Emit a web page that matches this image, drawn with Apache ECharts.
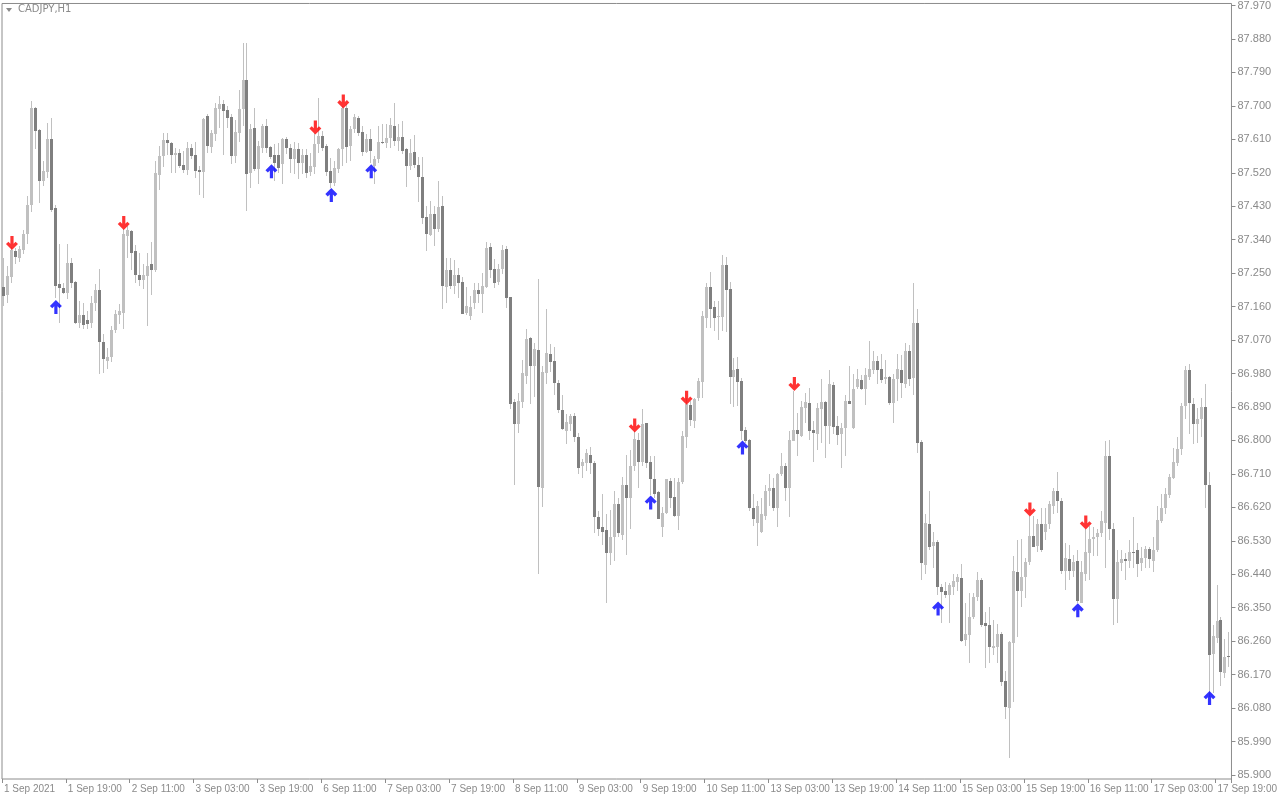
<!DOCTYPE html>
<html>
<head>
<meta charset="utf-8">
<script src="https://cdn.jsdelivr.net/npm/echarts@6/dist/echarts.min.js"></script>
<style>
html,body{margin:0;padding:0;background:#fff;}
#chart{width:1280px;height:800px;}
</style>
</head>
<body>
<div id="chart"></div>
<script>
// ---- DATA ----
const symbolTitle = 'CADJPY,H1';
const xTickLabels = ['1 Sep 2021','1 Sep 19:00','2 Sep 11:00','3 Sep 03:00','3 Sep 19:00','6 Sep 11:00','7 Sep 03:00','7 Sep 19:00','8 Sep 11:00','9 Sep 03:00','9 Sep 19:00','10 Sep 11:00','13 Sep 03:00','13 Sep 19:00','14 Sep 11:00','15 Sep 03:00','15 Sep 19:00','16 Sep 11:00','17 Sep 03:00','17 Sep 19:00'];
const yTickLabels = [87.970,87.880,87.790,87.700,87.610,87.520,87.430,87.340,87.250,87.160,87.070,86.980,86.890,86.800,86.710,86.620,86.530,86.440,86.350,86.260,86.170,86.080,85.990,85.900];

// OHLC rows: [open, close, low, high]
const bars = [
[87.213,87.189,87.162,87.291],[87.191,87.242,87.170,87.269],[87.240,87.312,87.224,87.320],[87.310,87.293,87.275,87.318],
[87.291,87.315,87.280,87.323],[87.312,87.355,87.301,87.366],[87.355,87.433,87.328,87.457],[87.433,87.693,87.414,87.712],
[87.693,87.632,87.583,87.696],[87.634,87.497,87.438,87.637],[87.497,87.524,87.484,87.551],[87.522,87.610,87.506,87.653],
[87.610,87.420,87.414,87.667],[87.425,87.216,87.183,87.433],[87.221,87.210,87.116,87.328],[87.210,87.197,87.194,87.224],
[87.197,87.277,87.181,87.328],[87.277,87.224,87.210,87.291],[87.226,87.116,87.114,87.229],[87.116,87.138,87.103,87.175],
[87.138,87.111,87.100,87.170],[87.124,87.114,87.100,87.148],[87.116,87.170,87.103,87.189],[87.170,87.205,87.148,87.221],
[87.205,87.065,86.979,87.261],[87.065,87.020,86.982,87.087],[87.014,87.025,86.993,87.049],[87.025,87.097,87.012,87.108],
[87.097,87.140,87.089,87.151],[87.138,87.148,87.114,87.167],[87.143,87.355,87.100,87.369],[87.350,87.366,87.291,87.377],
[87.363,87.304,87.259,87.366],[87.310,87.245,87.224,87.326],[87.245,87.232,87.216,87.304],[87.232,87.245,87.208,87.275],
[87.242,87.269,87.108,87.304],[87.275,87.259,87.191,87.334],[87.259,87.519,87.253,87.551],[87.514,87.565,87.473,87.591],
[87.565,87.608,87.535,87.626],[87.608,87.599,87.567,87.626],[87.599,87.567,87.519,87.602],[87.567,87.573,87.519,87.586],
[87.573,87.538,87.532,87.583],[87.540,87.527,87.519,87.578],[87.527,87.586,87.514,87.602],[87.586,87.565,87.557,87.597],
[87.567,87.524,87.506,87.602],[87.527,87.522,87.460,87.538],[87.522,87.664,87.452,87.667],[87.672,87.591,87.573,87.678],
[87.589,87.626,87.573,87.634],[87.624,87.693,87.605,87.707],[87.691,87.704,87.640,87.726],[87.704,87.685,87.567,87.715],
[87.688,87.667,87.640,87.699],[87.669,87.565,87.543,87.678],[87.565,87.629,87.546,87.661],[87.626,87.691,87.602,87.744],
[87.691,87.769,87.645,87.868],[87.769,87.516,87.417,87.868],[87.519,87.637,87.479,87.650],[87.640,87.530,87.524,87.693],
[87.530,87.591,87.489,87.605],[87.586,87.645,87.573,87.650],[87.645,87.586,87.573,87.664],[87.589,87.562,87.557,87.591],
[87.567,87.546,87.497,87.597],[87.567,87.532,87.519,87.599],[87.543,87.610,87.489,87.613],[87.610,87.586,87.570,87.616],
[87.586,87.557,87.519,87.597],[87.557,87.583,87.516,87.602],[87.583,87.546,87.503,87.599],[87.546,87.567,87.516,87.583],
[87.567,87.519,87.506,87.583],[87.522,87.538,87.511,87.573],[87.535,87.597,87.516,87.626],[87.597,87.618,87.573,87.720],
[87.618,87.586,87.578,87.632],[87.591,87.522,87.511,87.597],[87.524,87.492,87.479,87.559],[87.492,87.532,87.484,87.551],
[87.530,87.583,87.519,87.586],[87.583,87.693,87.538,87.699],[87.693,87.589,87.546,87.704],[87.591,87.637,87.551,87.645],
[87.637,87.669,87.626,87.678],[87.667,87.626,87.618,87.672],[87.629,87.575,87.565,87.645],[87.575,87.610,87.573,87.624],
[87.610,87.578,87.546,87.637],[87.538,87.557,87.489,87.565],[87.557,87.602,87.546,87.645],[87.602,87.599,87.597,87.650],
[87.599,87.613,87.586,87.650],[87.613,87.648,87.586,87.667],[87.645,87.605,87.591,87.707],[87.605,87.616,87.578,87.650],
[87.616,87.578,87.570,87.659],[87.583,87.538,87.481,87.586],[87.538,87.573,87.527,87.610],[87.575,87.540,87.532,87.621],
[87.540,87.508,87.441,87.562],[87.508,87.398,87.382,87.562],[87.401,87.355,87.310,87.430],[87.353,87.409,87.350,87.444],
[87.409,87.369,87.323,87.430],[87.369,87.428,87.361,87.497],[87.430,87.216,87.154,87.457],[87.213,87.259,87.170,87.291],
[87.259,87.216,87.208,87.291],[87.216,87.245,87.194,87.286],[87.245,87.224,87.183,87.264],[87.226,87.140,87.140,87.240],
[87.143,87.162,87.138,87.213],[87.135,87.159,87.124,87.189],[87.170,87.205,87.154,87.224],[87.205,87.194,87.170,87.224],
[87.194,87.216,87.143,87.250],[87.213,87.318,87.210,87.334],[87.320,87.259,87.237,87.331],[87.261,87.224,87.210,87.288],
[87.226,87.261,87.218,87.275],[87.261,87.312,87.248,87.326],[87.315,87.183,87.156,87.323],[87.186,86.899,86.885,87.186],
[86.904,86.845,86.679,86.912],[86.845,86.907,86.821,86.928],[86.904,86.982,86.888,87.017],[86.974,87.073,86.952,87.100],
[87.076,87.001,86.899,87.079],[87.001,87.046,86.918,87.063],[87.044,86.676,86.442,87.234],[86.673,86.985,86.622,87.001],
[86.982,87.036,86.952,87.154],[87.033,87.012,86.985,87.060],[87.014,86.955,86.921,87.052],[86.955,86.883,86.875,86.963],
[86.883,86.832,86.829,86.921],[86.826,86.850,86.791,86.870],[86.845,86.867,86.826,86.872],[86.867,86.808,86.797,86.875],
[86.810,86.727,86.711,86.821],[86.730,86.743,86.700,86.751],[86.738,86.765,86.719,86.778],[86.762,86.738,86.711,86.783],
[86.738,86.593,86.550,86.746],[86.593,86.563,86.544,86.609],[86.566,86.553,86.518,86.655],[86.558,86.496,86.362,86.603],
[86.496,86.539,86.464,86.614],[86.539,86.630,86.477,86.663],[86.628,86.550,86.539,86.646],[86.547,86.681,86.531,86.703],
[86.679,86.646,86.491,86.762],[86.646,86.732,86.563,86.775],[86.732,86.805,86.719,86.826],[86.802,86.743,86.673,86.821],
[86.741,86.845,86.730,86.885],[86.848,86.738,86.727,86.848],[86.743,86.697,86.652,86.759],[86.697,86.655,86.646,86.759],
[86.660,86.590,86.590,86.665],[86.568,86.606,86.539,86.622],[86.606,86.695,86.603,86.697],[86.692,86.646,86.619,86.700],
[86.649,86.598,86.593,86.700],[86.598,86.687,86.560,86.700],[86.687,86.813,86.684,86.826],[86.810,86.899,86.780,86.915],
[86.896,86.856,86.840,86.907],[86.853,86.912,86.834,86.915],[86.915,86.961,86.907,86.969],[86.958,87.135,86.915,87.148],
[87.130,87.213,87.103,87.224],[87.213,87.154,87.103,87.253],[87.159,87.130,87.095,87.175],[87.132,87.135,87.071,87.175],
[87.132,87.272,87.095,87.299],[87.272,87.205,87.092,87.293],[87.208,86.971,86.899,87.226],[86.971,86.990,86.891,87.022],
[86.993,86.958,86.893,87.025],[86.961,86.826,86.802,86.969],[86.829,86.799,86.794,86.837],[86.802,86.617,86.611,86.805],
[86.619,86.590,86.571,86.657],[86.579,86.625,86.515,86.636],[86.555,86.601,86.550,86.646],[86.598,86.665,86.585,86.679],
[86.663,86.673,86.625,86.711],[86.673,86.617,86.609,86.700],[86.617,86.711,86.568,86.713],[86.711,86.732,86.705,86.767],
[86.732,86.673,86.638,86.738],[86.673,86.802,86.595,86.826],[86.799,86.829,86.799,86.934],[86.829,86.818,86.759,86.875],
[86.813,86.891,86.808,86.907],[86.888,86.904,86.848,86.928],[86.901,86.826,86.802,86.942],[86.829,86.821,86.741,86.853],
[86.818,86.888,86.773,86.901],[86.885,86.904,86.794,86.966],[86.904,86.840,86.754,86.907],[86.840,86.952,86.791,86.990],
[86.950,86.837,86.818,86.958],[86.840,86.815,86.789,86.867],[86.818,86.834,86.727,86.848],[86.834,86.907,86.759,86.921],
[86.907,86.899,86.899,87.001],[86.834,86.939,86.832,86.979],[86.944,86.966,86.939,86.993],[86.963,86.939,86.936,86.977],
[86.939,86.977,86.896,86.995],[86.971,86.993,86.963,87.068],[86.990,87.014,86.979,87.041],[87.014,86.990,86.952,87.028],
[86.993,86.963,86.955,87.033],[86.966,86.971,86.952,87.017],[86.971,86.901,86.896,86.974],[86.901,86.966,86.848,86.979],
[86.966,86.993,86.907,87.033],[86.990,86.955,86.915,87.030],[86.952,87.041,86.942,87.063],[87.041,86.966,86.947,87.057],
[86.969,87.116,86.921,87.224],[87.116,86.794,86.765,87.154],[86.797,86.469,86.424,86.802],[86.464,86.577,86.442,86.603],
[86.574,86.513,86.504,86.665],[86.515,86.528,86.456,86.555],[86.528,86.405,86.383,86.533],[86.405,86.391,86.308,86.413],
[86.394,86.383,86.375,86.418],[86.383,86.410,86.308,86.416],[86.407,86.421,86.383,86.442],[86.418,86.432,86.394,86.440],
[86.429,86.260,86.257,86.467],[86.262,86.279,86.246,86.362],[86.276,86.324,86.201,86.389],[86.324,86.378,86.321,86.389],
[86.378,86.424,86.367,86.445],[86.424,86.303,86.297,86.429],[86.308,86.300,86.187,86.338],[86.303,86.244,86.201,86.351],
[86.241,86.246,86.222,86.316],[86.244,86.279,86.201,86.305],[86.279,86.150,86.139,86.284],[86.152,86.083,86.050,86.179],
[86.080,86.257,85.946,86.260],[86.254,86.448,86.096,86.488],[86.445,86.394,86.271,86.533],[86.394,86.434,86.351,86.536],
[86.432,86.472,86.375,86.485],[86.472,86.544,86.464,86.598],[86.544,86.513,86.513,86.598],[86.515,86.574,86.501,86.590],
[86.574,86.504,86.501,86.617],[86.555,86.574,86.531,86.617],[86.574,86.628,86.563,86.636],[86.625,86.665,86.603,86.671],
[86.663,86.636,86.606,86.716],[86.638,86.450,86.440,86.644],[86.450,86.483,86.397,86.525],[86.480,86.448,86.424,86.518],
[86.448,86.472,86.432,86.491],[86.475,86.367,86.362,86.504],[86.362,86.445,86.362,86.477],[86.442,86.499,86.421,86.563],
[86.496,86.536,86.424,86.571],[86.536,86.539,86.488,86.568],[86.539,86.550,86.488,86.563],[86.550,86.582,86.539,86.611],
[86.579,86.759,86.456,86.799],[86.757,86.563,86.531,86.802],[86.563,86.373,86.303,86.577],[86.373,86.472,86.308,86.504],
[86.469,86.480,86.450,86.504],[86.480,86.475,86.424,86.496],[86.475,86.501,86.458,86.531],[86.501,86.499,86.458,86.595],
[86.504,86.467,86.432,86.523],[86.469,86.485,86.450,86.513],[86.485,86.509,86.458,86.515],[86.509,86.480,86.458,86.513],
[86.477,86.504,86.445,86.539],[86.504,86.585,86.499,86.625],[86.582,86.617,86.577,86.657],[86.617,86.657,86.603,86.671],
[86.652,86.703,86.646,86.711],[86.700,86.741,86.695,86.780],[86.738,86.778,86.732,86.808],[86.778,86.893,86.762,86.901],
[86.893,86.990,86.859,87.001],[86.990,86.901,86.818,87.006],[86.899,86.845,86.791,86.915],[86.845,86.859,86.794,86.888],
[86.859,86.891,86.808,86.915],[86.891,86.679,86.619,86.952],[86.679,86.222,86.109,86.716],[86.225,86.273,86.120,86.303],
[86.268,86.313,86.254,86.410],[86.316,86.176,86.139,86.324],[86.174,86.217,86.160,86.265],[86.219,86.217,86.190,86.284]
];

// Signal arrows: bar index and price level of the arrow centre
const sellIdx   = [2, 30, 78, 85, 158, 171, 198, 257, 271];
const sellPrice = [87.331, 87.385, 87.642, 87.712, 86.840, 86.915, 86.952, 86.614, 86.579];
const buyIdx    = [13, 67, 82, 92, 162, 185, 234, 269, 302];
const buyPrice  = [87.159, 87.524, 87.460, 87.524, 86.633, 86.781, 86.348, 86.343, 86.107];

// ---- build categories (hourly, weekends skipped) ----
const categories = [];
(function(){
  let day = 1, hour = 3;
  const weekend = {4:1,5:1,11:1,12:1};
  while (categories.length < bars.length) {
    if (!weekend[day]) categories.push(day + ' Sep ' + String(hour).padStart(2,'0') + ':00');
    hour++; if (hour === 24) { hour = 0; day++; }
  }
})();

const UP = '#c0c0c0', DOWN = '#7f7f7f', WICK = '#c0c0c0';
const TEXT = '#8a8a8a', BORDER = '#8c8c8c';

const chart = echarts.init(document.getElementById('chart'), null, {renderer: 'canvas'});

function renderCandle(params, api) {
  const i = api.value(0);
  const o = api.value(1), c = api.value(2), l = api.value(3), h = api.value(4);
  const pO = api.coord([i, o]);
  const xc = Math.round(pO[0]);
  const yo = pO[1], yc = api.coord([i, c])[1];
  const yl = Math.round(api.coord([i, l])[1]), yh = Math.round(api.coord([i, h])[1]);
  const top = Math.round(Math.min(yo, yc)), bot = Math.round(Math.max(yo, yc));
  return {
    type: 'group',
    children: [
      {type: 'rect', shape: {x: xc - 1, y: yh, width: 1, height: Math.max(1, yl - yh)}, style: {fill: WICK}},
      {type: 'rect', shape: {x: xc - 2, y: top, width: 3, height: Math.max(1, bot - top)}, style: {fill: c >= o ? UP : DOWN}}
    ]
  };
}

// thick arrow (Wingdings-like), pointing up
const arrowUp = 'path://M6,0 L12,6 L9.6,8.3 L7.6,6.3 L7.6,14 L4.4,14 L4.4,6.3 L2.4,8.3 L0,6 Z';

const option = {
  animation: false,
  backgroundColor: '#ffffff',
  grid: {left: 2, top: 2, right: 46, bottom: 21, show: true, borderColor: BORDER, borderWidth: 1, backgroundColor: 'transparent'},
  xAxis: {
    type: 'category',
    data: categories,
    boundaryGap: true,
    axisLine: {show: false},
    axisTick: {show: true, interval: (idx) => idx % 16 === 0, length: 4, lineStyle: {color: BORDER}},
    axisLabel: {
      interval: (idx) => idx % 16 === 0,
      formatter: (v, idx) => xTickLabels[idx / 16] || '',
      align: 'left', margin: 5, color: TEXT,
      fontFamily: 'Liberation Sans', fontSize: 10, hideOverlap: false
    },
    splitLine: {show: false}
  },
  yAxis: {
    type: 'value',
    position: 'right',
    min: 85.8893, max: 87.9754,
    scale: true,
    axisLine: {show: false},
    axisTick: {show: true, length: 4, customValues: yTickLabels, lineStyle: {color: BORDER}},
    axisLabel: {
      customValues: yTickLabels,
      formatter: (v) => Number(v).toFixed(3),
      margin: 6, color: TEXT, fontFamily: 'Liberation Sans', fontSize: 11
    },
    splitLine: {show: false}
  },
  graphic: [
    {type: 'polygon', shape: {points: [[6, 8], [12, 8], [9, 12]]}, style: {fill: TEXT}},
    {type: 'text', left: 18, top: 4, style: {text: symbolTitle, fill: TEXT, font: '10px "DejaVu Sans"'}}
  ],
  series: [
    {
      type: 'custom',
      renderItem: renderCandle,
      encode: {x: 0, y: [1, 2, 3, 4]},
      data: bars.map((b, i) => [i, b[0], b[1], b[2], b[3]]),
      clip: true,
      silent: true
    },
    {
      type: 'scatter',
      data: buyIdx.map((x, k) => [x, buyPrice[k]]),
      symbol: arrowUp, symbolSize: [12, 14],
      itemStyle: {color: '#0000ff'},
      silent: true, z: 5
    },
    {
      type: 'scatter',
      data: sellIdx.map((x, k) => [x, sellPrice[k]]),
      symbol: arrowUp, symbolSize: [12, 14], symbolRotate: 180,
      itemStyle: {color: '#ff0000'},
      silent: true, z: 5
    }
  ]
};
chart.setOption(option);
</script>
</body>
</html>
